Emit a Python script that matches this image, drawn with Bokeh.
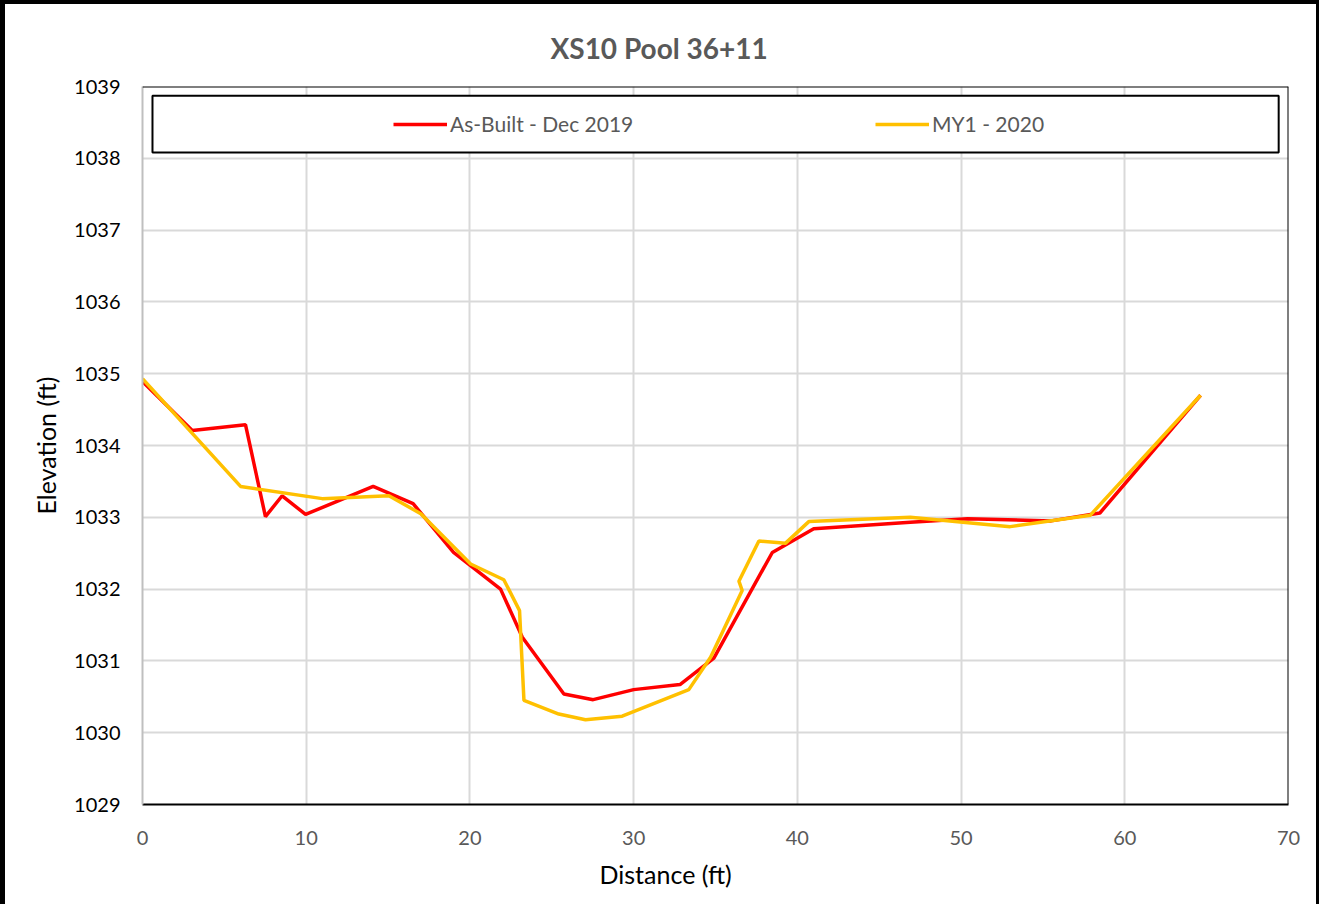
from bokeh.plotting import figure
from bokeh.models import Range1d, Span, BoxAnnotation, Legend, LegendItem, FixedTicker, Title
from bokeh.embed import file_html
from bokeh.resources import INLINE

# ---- data ----
red_x = [0, 3.04, 6.29, 7.51, 8.53, 9.96, 14.09, 16.53, 19.0, 21.87, 23.2, 25.74, 27.53,
         30.0, 32.83, 34.9, 38.47, 41.0, 46.9, 50.4, 55.5, 58.48, 64.63]
red_y = [1034.89, 1034.21, 1034.29, 1033.01, 1033.30, 1033.04, 1033.43, 1033.19, 1032.51,
         1032.0, 1031.33, 1030.54, 1030.46, 1030.60, 1030.67, 1031.04, 1032.51, 1032.84,
         1032.93, 1032.98, 1032.95, 1033.06, 1034.70]
yel_x = [0, 5.99, 10.98, 15.05, 17.0, 20.04, 22.07, 23.03, 23.3, 25.43, 27.06, 29.3, 33.37,
         34.7, 36.63, 36.43, 37.65, 39.28, 40.70, 46.9, 53.0, 57.9, 64.63]
yel_y = [1034.93, 1033.43, 1033.26, 1033.30, 1033.05, 1032.35, 1032.13, 1031.70, 1030.45,
         1030.26, 1030.18, 1030.23, 1030.60, 1031.05, 1031.98, 1032.11, 1032.67, 1032.64,
         1032.94, 1033.0, 1032.87, 1033.03, 1034.70]
series_names = ["As-Built - Dec 2019", "MY1 - 2020"]
x_ticks = [0, 10, 20, 30, 40, 50, 60, 70]
y_ticks = list(range(1029, 1040))

FONT = "Lato"
GRAY = "#595959"

p = figure(width=1319, height=904, output_backend="svg", toolbar_location=None,
           x_range=Range1d(0, 70), y_range=Range1d(1029, 1039),
           min_border_left=142, min_border_right=31, min_border_top=86, min_border_bottom=100)
p.border_fill_color = None
p.styles = {"background-color": "white",
            "box-shadow": "inset 5px 4px 0 0 black, inset -3px 0 0 0 black"}
p.outline_line_color = None
p.background_fill_color = "white"

# title
p.title.text = "XS10 Pool 36+11"
p.title.text_font = FONT
p.title.text_font_size = "28px"
p.title.text_font_style = "bold"
p.title.text_color = GRAY
p.title.align = "left"
p.title.offset = 408
p.title.standoff = 43

# axes
p.xaxis.ticker = FixedTicker(ticks=x_ticks)
p.yaxis.ticker = FixedTicker(ticks=y_ticks)
for ax in (p.xaxis[0], p.yaxis[0]):
    ax.major_tick_out = 0
    ax.major_tick_in = 0
    ax.minor_tick_out = 0
    ax.minor_tick_in = 0
    ax.major_label_text_font = FONT
    ax.major_label_text_font_size = "20px"
    ax.axis_line_width = 2
p.xaxis.major_label_text_color = GRAY
p.yaxis.major_label_text_color = "black"
p.xaxis.axis_line_color = "black"
p.yaxis.axis_line_color = "#bfbfbf"
p.xaxis.major_label_standoff = 26
p.yaxis.major_label_standoff = 22
p.yaxis.axis_label = "Elevation (ft)"
p.yaxis.axis_label_text_font = FONT
p.yaxis.axis_label_text_font_size = "25px"
p.yaxis.axis_label_text_font_style = "normal"
p.yaxis.axis_label_text_color = "black"
p.yaxis.axis_label_standoff = 10

xlab = Title(text="Distance (ft)", align="left", offset=457, text_font=FONT,
             text_font_size="25px", text_font_style="normal", text_color="black", standoff=18)
p.add_layout(xlab, "below")

p.xgrid.grid_line_color = "#d9d9d9"
p.ygrid.grid_line_color = "#d9d9d9"
p.xgrid.grid_line_width = 2
p.ygrid.grid_line_width = 2

# frame edges (top & right)
p.add_layout(Span(location=1039, dimension="width", line_color="black", line_width=2))
p.add_layout(Span(location=70, dimension="height", line_color="black", line_width=2))

# legend box
p.add_layout(BoxAnnotation(left=0.61, right=69.4, top=1038.87, bottom=1038.08,
                           fill_color="white", fill_alpha=1, line_color="black",
                           line_alpha=1, line_width=2, level="underlay"))

r1 = p.line(red_x, red_y, line_color="#ff0000", line_width=3.5)
r2 = p.line(yel_x, yel_y, line_color="#ffc000", line_width=3.5)

for r, name, xloc in ((r1, series_names[0], 251), (r2, series_names[1], 733)):
    lg = Legend(items=[LegendItem(label=name, renderers=[r])], location=(xloc, 668),
                orientation="horizontal", padding=0, margin=0, spacing=0,
                glyph_width=54, glyph_height=24, label_height=24, label_standoff=3,
                label_text_font=FONT, label_text_font_size="21px", label_text_color=GRAY,
                border_line_alpha=0, background_fill_alpha=0)
    p.add_layout(lg)

open("out.html", "w").write(file_html(p, INLINE))
